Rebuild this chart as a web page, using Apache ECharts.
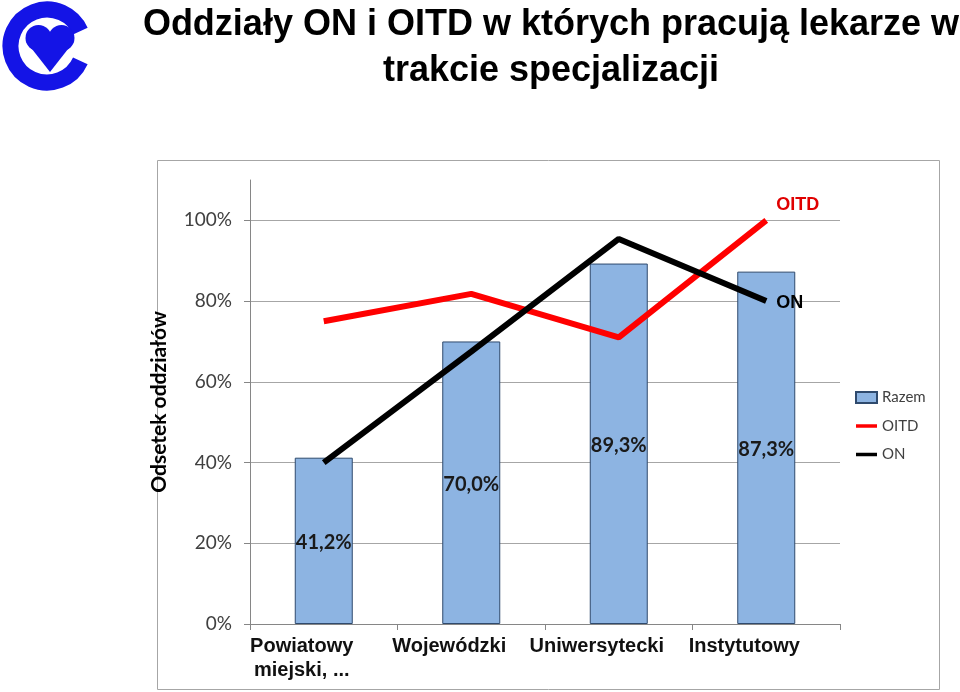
<!DOCTYPE html>
<html>
<head>
<meta charset="utf-8">
<script src="https://cdn.jsdelivr.net/npm/echarts@6/dist/echarts.min.js"></script>
<style>html,body{margin:0;padding:0;background:#fff}#c{width:960px;height:692px}</style>
</head>
<body>
<div id="c"></div>
<script>
const categories = ['Powiatowy\nmiejski, ...', 'Wojewódzki', 'Uniwersytecki', 'Instytutowy'];
const razem = [41.2, 70.0, 89.3, 87.3];
const oitd = [75, 81.8, 71, 100];
const on = [40, 67.5, 95.4, 80];
const yTicks = [0, 20, 40, 60, 80, 100];

const chart = echarts.init(document.getElementById('c'), null, {renderer: 'canvas'});
const calibri = 'Lato, "Open Sans", sans-serif';
const arial = '"Liberation Sans", Arial, sans-serif';
const logoBlue = '#1414e6';

chart.setOption({
  animation: false,
  backgroundColor: '#ffffff',
  title: {
    text: 'Oddziały ON i OITD w których pracują lekarze w\ntrakcie specjalizacji',
    left: 546, top: -3, textAlign: 'center',
    textStyle: {fontFamily: arial, fontWeight: 'bold', fontSize: 36, lineHeight: 46, color: '#000'}
  },
  graphic: [
    {type: 'rect', shape: {x: 157.5, y: 160.5, width: 782, height: 529}, style: {fill: null, stroke: '#a6a6a6', lineWidth: 1}, z: -1},
    {type: 'arc', shape: {cx: 47, cy: 46, r: 36.5, startAngle: 0.42, endAngle: Math.PI * 2 - 0.42, clockwise: true},
     style: {fill: null, stroke: logoBlue, lineWidth: 16, lineCap: 'butt'}},
    {type: 'circle', shape: {cx: 38.5, cy: 38, r: 13}, style: {fill: logoBlue}},
    {type: 'circle', shape: {cx: 61.5, cy: 38, r: 13}, style: {fill: logoBlue}},
    {type: 'polygon', shape: {points: [[26.5, 42], [73.5, 42], [50, 72]]}, style: {fill: logoBlue}},
    {type: 'polygon', shape: {points: [[30, 36], [70, 36], [73.5, 43], [26.5, 43]]}, style: {fill: logoBlue}}
  ],
  legend: {
    orient: 'vertical', left: 855, top: 390, padding: 0, itemGap: 13.5, itemWidth: 21, itemHeight: 11,
    textStyle: {fontFamily: calibri, fontSize: 15, color: '#404040'},
    data: [
      {name: 'Razem', icon: 'rect'},
      {name: 'OITD', icon: 'path://M0,0 L24,0 L24,4 L0,4 Z', itemStyle: {color: '#ff0000'}},
      {name: 'ON', icon: 'path://M0,0 L24,0 L24,4 L0,4 Z', itemStyle: {color: '#000000'}}
    ]
  },
  grid: {left: 250, right: 120, top: 180, bottom: 68},
  xAxis: {
    type: 'category', data: categories,
    axisLine: {lineStyle: {color: '#868686', width: 1}},
    axisTick: {show: true, length: 6, lineStyle: {color: '#868686'}},
    axisLabel: {interval: 0, margin: 10, fontFamily: arial, fontWeight: 'bold', fontSize: 20, color: '#111', lineHeight: 24,
      padding: [0, 44, 0, 0]}
  },
  yAxis: {
    type: 'value', min: 0, max: 110, interval: 20,
    name: 'Odsetek oddziałów', nameLocation: 'middle', nameGap: 80, nameRotate: 90,
    nameTextStyle: {fontFamily: calibri, fontWeight: 'bold', fontSize: 21, color: '#000'},
    axisLine: {show: true, lineStyle: {color: '#868686'}},
    axisTick: {show: true, length: 6, inside: false, lineStyle: {color: '#868686'}},
    axisLabel: {margin: 18, fontFamily: calibri, fontSize: 19, color: '#404040', showMaxLabel: false,
      formatter: v => (yTicks.indexOf(v) >= 0 ? v + '%' : '')},
    splitLine: {show: true, showMaxLine: false, lineStyle: {color: '#a6a6a6', width: 1}}
  },
  series: [
    {
      name: 'Razem', type: 'bar', data: razem, barWidth: 58,
      itemStyle: {color: '#8db4e2', borderColor: '#2f4a6d', borderWidth: 1},
      label: {show: true, position: 'inside', offset: [0, 2], fontFamily: calibri, fontWeight: 'bold', fontSize: 20, color: '#1a1a1a',
        formatter: p => p.value.toFixed(1).replace('.', ',') + '%'},
      z: 2
    },
    {
      name: 'OITD', type: 'line', data: oitd, symbol: 'none',
      lineStyle: {color: '#ff0000', width: 6}, itemStyle: {color: '#ff0000'},
      endLabel: {show: true, formatter: 'OITD', offset: [2, -15], fontFamily: arial, fontWeight: 'bold', fontSize: 18, color: '#e00000'},
      z: 3
    },
    {
      name: 'ON', type: 'line', data: on, symbol: 'none',
      lineStyle: {color: '#000000', width: 6}, itemStyle: {color: '#000000'},
      endLabel: {show: true, formatter: 'ON', offset: [2, 2], fontFamily: arial, fontWeight: 'bold', fontSize: 18, color: '#000'},
      z: 4
    }
  ]
});
</script>
</body>
</html>
